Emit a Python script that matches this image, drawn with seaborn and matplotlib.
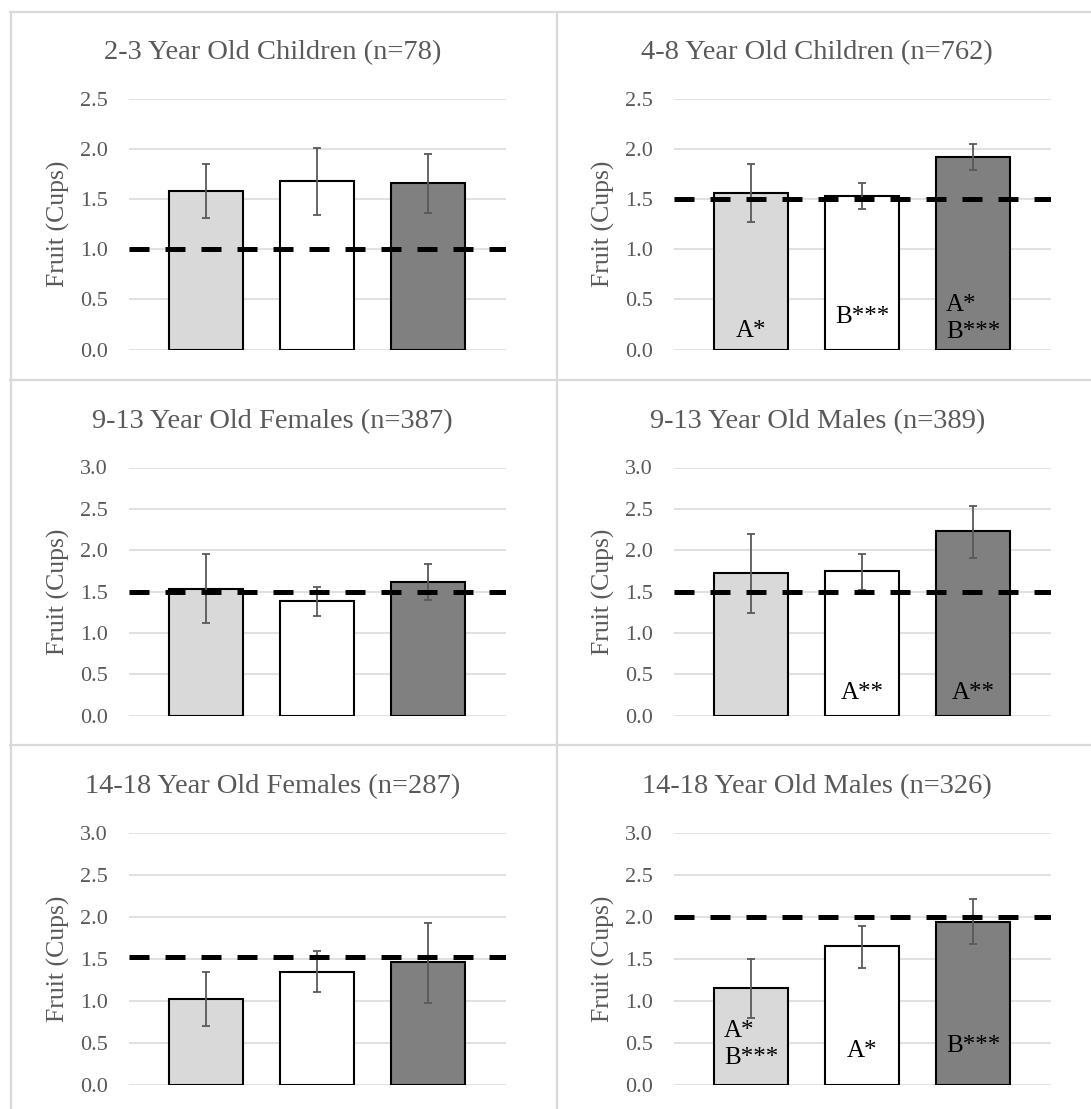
import matplotlib

matplotlib.use("Agg")

import matplotlib.pyplot as plt
import pandas as pd
import seaborn as sns
from matplotlib.lines import Line2D


TITLES = [
    "2-3 Year Old Children (n=78)",
    "4-8 Year Old Children (n=762)",
    "9-13 Year Old Females (n=387)",
    "9-13 Year Old Males (n=389)",
    "14-18 Year Old Females (n=287)",
    "14-18 Year Old Males (n=326)",
]
GROUPS = ["Group 1", "Group 2", "Group 3"]
BAR_COLORS = ["#D9D9D9", "#FFFFFF", "#808080"]

MEANS = [
    [1.58, 1.68, 1.66],
    [1.56, 1.53, 1.92],
    [1.53, 1.39, 1.62],
    [1.72, 1.75, 2.23],
    [1.02, 1.35, 1.46],
    [1.15, 1.65, 1.94],
]
CI_LOW = [
    [1.31, 1.34, 1.36],
    [1.27, 1.40, 1.79],
    [1.12, 1.21, 1.40],
    [1.24, 1.52, 1.91],
    [0.70, 1.11, 0.98],
    [0.80, 1.39, 1.68],
]
CI_HIGH = [
    [1.85, 2.01, 1.95],
    [1.85, 1.66, 2.05],
    [1.95, 1.56, 1.83],
    [2.20, 1.96, 2.53],
    [1.34, 1.59, 1.93],
    [1.50, 1.89, 2.21],
]
RECOMMENDED = [1.0, 1.5, 1.5, 1.5, 1.52, 2.0]
Y_MAX = [2.5, 2.5, 3.0, 3.0, 3.0, 3.0]

# (panel, bar, label, y value of text centre)
ANNOTATIONS = [
    (1, 0, "A*", 0.18),
    (1, 1, "B***", 0.32),
    (1, 2, "A*\nB***", 0.31),
    (3, 1, "A**", 0.27),
    (3, 2, "A**", 0.28),
    (5, 0, "A*\nB***", 0.48),
    (5, 1, "A*", 0.40),
    (5, 2, "B***", 0.46),
]

W, H = 1091, 1109
COL_X = [(128.5, 506.0), (673.5, 1051.0)]
ROW_Y = [(99.0, 349.5), (467.5, 715.7), (833.0, 1085.0)]
TEXT_GREY = "#595959"
LINE_GREY = "#D9D9D9"


def px_rect(left, top, right, bottom):
    return [left / W, 1 - bottom / H, (right - left) / W, (bottom - top) / H]


def main() -> None:
    sns.set_theme(style="white")
    plt.rcParams["font.family"] = ["Liberation Serif", "DejaVu Serif"]

    fig = plt.figure(figsize=(W / 100, H / 100), dpi=100)

    # panel frames
    for y in [12, 379.5, 745]:
        fig.add_artist(Line2D([10 / W, 1], [1 - y / H] * 2, color=LINE_GREY, lw=1.6))
    for x in [11, 557]:
        fig.add_artist(Line2D([x / W] * 2, [1 - 12 / H, 0], color=LINE_GREY, lw=1.6))

    for i, title in enumerate(TITLES):
        row, col = divmod(i, 2)
        left, right = COL_X[col]
        top, bottom = ROW_Y[row]
        ax = fig.add_axes(px_rect(left, top, right, bottom))
        width_px = right - left
        height_px = bottom - top

        df = pd.DataFrame({"group": GROUPS, "cups": MEANS[i]})
        sns.barplot(
            data=df,
            x="group",
            y="cups",
            hue="group",
            palette=BAR_COLORS,
            edgecolor="black",
            linewidth=1.5,
            width=0.67,
            legend=False,
            ax=ax,
            zorder=2,
        )
        lower = [m - lo for m, lo in zip(MEANS[i], CI_LOW[i])]
        upper = [hi - m for m, hi in zip(MEANS[i], CI_HIGH[i])]
        ax.errorbar(
            range(len(GROUPS)),
            MEANS[i],
            yerr=[lower, upper],
            fmt="none",
            ecolor=TEXT_GREY,
            elinewidth=1.3,
            capsize=3,
            capthick=1.3,
            zorder=3,
        )
        ax.axhline(
            RECOMMENDED[i],
            color="black",
            lw=3.6,
            dashes=(4, 3.2),
            zorder=4,
        )

        ax.set_xlim(-0.7, 2.7)
        ax.set_ylim(0, Y_MAX[i])
        ticks = [k * 0.5 for k in range(int(Y_MAX[i] / 0.5) + 1)]
        ax.set_yticks(ticks)
        ax.set_yticklabels([f"{t:.1f}" for t in ticks])
        ax.set_xticks([])
        ax.set_xlabel("")
        ax.set_ylabel("Fruit (Cups)", fontsize=18.5, color=TEXT_GREY)
        ax.yaxis.set_label_coords(-58.5 / width_px, 0.5)
        ax.tick_params(axis="y", length=0, pad=14.8, labelsize=16, labelcolor=TEXT_GREY)
        ax.grid(axis="y", color=LINE_GREY, lw=1.1, zorder=0)
        ax.set_axisbelow(True)
        for spine in ax.spines.values():
            spine.set_visible(False)
        ax.patch.set_alpha(0)

        ax.text(
            0.5 - 45 / width_px,
            1 + 46 / height_px,
            title,
            transform=ax.transAxes,
            ha="center",
            va="center",
            fontsize=20.5,
            color=TEXT_GREY,
        )

    axes = fig.axes
    for panel, bar, label, y in ANNOTATIONS:
        axes[panel].text(
            bar,
            y,
            label,
            ha="center",
            va="center",
            multialignment="left",
            fontsize=18,
            color="black",
            linespacing=1.3,
            zorder=5,
        )

    fig.savefig("out.png", dpi=100)
    plt.close(fig)


if __name__ == "__main__":
    main()
